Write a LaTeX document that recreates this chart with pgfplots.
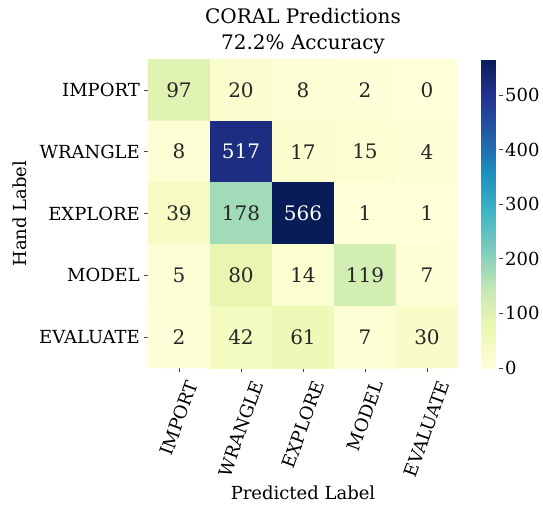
\documentclass[border=0pt]{standalone}
\usepackage{fontspec}
\setmainfont{DejaVu Serif}
\usepackage{graphicx}
\usepackage{pgfplots}
\pgfplotsset{compat=1.18}

\pgfplotsset{colormap={ylgnbu}{rgb255=(255,255,217) rgb255=(237,248,177) rgb255=(199,233,180)
  rgb255=(127,205,187) rgb255=(65,182,196) rgb255=(29,145,192) rgb255=(34,94,168)
  rgb255=(37,52,148) rgb255=(8,29,88)}}
\definecolor{annot}{gray}{0.15}
\definecolor{tickgray}{gray}{0.25}
\newcommand{\rot}[1]{\rotatebox{70}{#1}}

\begin{document}
\fontsize{18bp}{22bp}\selectfont
\begin{tikzpicture}
\useasboundingbox (-148bp,-138bp) rectangle (395bp,368bp);
\begin{axis}[
  at={(0,0)}, anchor=south west,
  scale only axis, width=310bp, height=309bp,
  xmin=-0.5, xmax=4.5, ymin=-0.5, ymax=4.5,
  y dir=reverse,
  enlargelimits=false,
  axis line style={draw=none},
  xtick={0,...,4}, ytick={0,...,4},
  xticklabels={\rot{IMPORT},\rot{WRANGLE},\rot{EXPLORE},\rot{MODEL},\rot{EVALUATE}},
  yticklabels={IMPORT,WRANGLE,EXPLORE,MODEL,EVALUATE},
  xticklabel style={anchor=north, inner sep=3bp, yshift=-4bp},
  yticklabel style={inner sep=4bp},
  tick align=outside, major tick length=4bp,
  tick style={tickgray, line width=0.8bp},
  xtick pos=bottom, ytick pos=left,
  title={CORAL Predictions\\72.2\% Accuracy},
  title style={align=center, font=\fontsize{20bp}{26bp}\selectfont,
    at={(0.5,1)}, anchor=south, inner sep=0pt, yshift=-1bp},
  xlabel={Predicted Label}, ylabel={Hand Label},
  xlabel style={at={(axis description cs:0.5,-0.4045)}, anchor=center},
  ylabel style={at={(axis description cs:-0.4129,0.5)}, anchor=center},
  colormap name=ylgnbu,
  point meta min=0, point meta max=566,
  colorbar right,
  colorbar style={
    at={(parent axis.north east)}, anchor=north west, xshift=15bp,
    width=17.5bp,
    axis line style={draw=none},
    ytick={0,100,...,500},
    scaled y ticks=false,
    yticklabel style={inner sep=2bp},
    ytick pos=right, tick align=outside, major tick length=4bp,
    tick style={tickgray, line width=0.8bp},
    /pgf/number format/assume math mode=true,
  },
  nodes near coords style={anchor=center, font=\fontsize{20bp}{24bp}\selectfont},
]
\addplot[matrix plot*, mesh/cols=5, point meta=explicit] table[meta=c] {
x y c
0 0 97
1 0 20
2 0 8
3 0 2
4 0 0
0 1 8
1 1 517
2 1 17
3 1 15
4 1 4
0 2 39
1 2 178
2 2 566
3 2 1
4 2 1
0 3 5
1 3 80
2 3 14
3 3 119
4 3 7
0 4 2
1 4 42
2 4 61
3 4 7
4 4 30
};
\addplot[only marks, mark=none, point meta=explicit symbolic,
  nodes near coords, nodes near coords style={text=annot}]
  table[meta=c] {
x y c
0 0 97
1 0 20
2 0 8
3 0 2
4 0 0
0 1 8
2 1 17
3 1 15
4 1 4
0 2 39
1 2 178
3 2 1
4 2 1
0 3 5
1 3 80
2 3 14
3 3 119
4 3 7
0 4 2
1 4 42
2 4 61
3 4 7
4 4 30
};
\addplot[only marks, mark=none, point meta=explicit symbolic,
  nodes near coords, nodes near coords style={text=white}]
  table[meta=c] {
x y c
1 1 517
2 2 566
};
\end{axis}
\end{tikzpicture}
\end{document}
